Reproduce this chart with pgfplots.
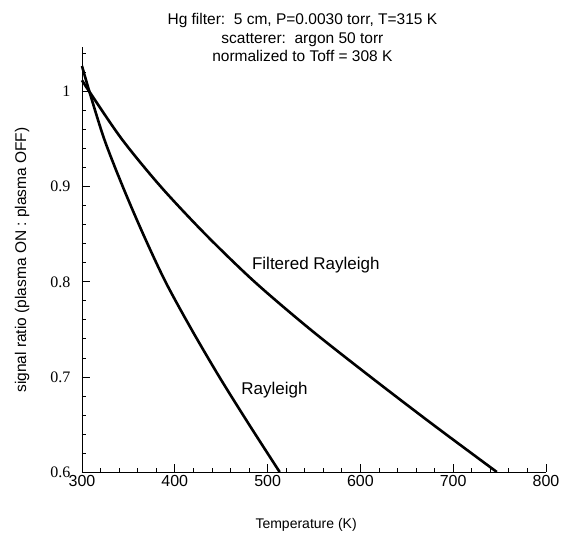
\documentclass[border=0pt]{standalone}
\usepackage{fontspec}
\setmainfont{Liberation Serif}
\setsansfont{Liberation Sans}
\usepackage{pgfplots}
\pgfplotsset{compat=1.18}
\begin{document}
\begin{tikzpicture}
\begin{axis}[
  scale only axis, width=464pt, height=425pt,
  xmin=300, xmax=800, ymin=0.6, ymax=1.047,
  axis lines*=left, clip=false,
  axis line style={line width=0.9pt},
  tick align=inside,
  major tick length=8pt, minor tick length=4pt,
  every tick/.style={black, line width=0.8pt},
  xtick={300,400,500,600,700,800},
  minor xtick={320,340,360,380,420,440,460,480,520,540,560,580,620,640,660,680,720,740,760,780},
  ytick={0.6,0.7,0.8,0.9,1},
  yticklabels={0.6,0.7,0.8,0.9,1},
  minor ytick={0.62,0.64,0.66,0.68,0.72,0.74,0.76,0.78,0.82,0.84,0.86,0.88,0.92,0.94,0.96,0.98,1.02,1.04},
  /pgf/number format/assume math mode=true,
  xticklabel style={font=\fontsize{16}{16}\selectfont\sffamily, yshift=0pt},
  yticklabel style={font=\fontsize{16}{16}\selectfont\rmfamily, xshift=-8pt},
]
\addplot[black, line width=2.6pt, smooth, tension=0.5] coordinates {
 (300,1.027) (308,1.0) (324,0.95) (344,0.9) (366,0.85) (390,0.8) (418,0.75) (448,0.7) (480,0.65) (513,0.6)};
\addplot[black, line width=2.6pt, smooth, tension=0.5] coordinates {
 (300,1.012) (308,1.0) (343,0.95) (385,0.9) (433,0.85) (486,0.8) (546,0.75) (611,0.7) (678,0.65) (747,0.6)};
\node[font=\fontsize{17}{17}\selectfont\sffamily, anchor=base] at (axis cs:552,0.8126) {Filtered Rayleigh};
\node[font=\fontsize{17}{17}\selectfont\sffamily, anchor=base] at (axis cs:507.4,0.682) {Rayleigh};
\node[font=\fontsize{15.5}{15.5}\selectfont\sffamily, anchor=base] at (rel axis cs:0.475,1.0518) {Hg filter:\ \ 5 cm, P=0.0030 torr, T=315 K};
\node[font=\fontsize{15.5}{15.5}\selectfont\sffamily, anchor=base] at (rel axis cs:0.475,1.0082) {scatterer:\ \ argon 50 torr};
\node[font=\fontsize{15.5}{15.5}\selectfont\sffamily, anchor=base] at (rel axis cs:0.475,0.9647) {normalized to Toff = 308 K};
\node[font=\fontsize{14}{14}\selectfont\sffamily, anchor=base] at (rel axis cs:0.483,-0.1318) {Temperature (K)};
\node[font=\fontsize{15.5}{15.5}\selectfont\sffamily, rotate=90, anchor=center] at (rel axis cs:-0.1293,0.4988) {signal ratio (plasma ON : plasma OFF)};
\coordinate (O) at (rel axis cs:0,0);
\end{axis}
\pgfresetboundingbox
\path (O) ++(-82pt,-61pt) rectangle ++(582pt,533pt);
\end{tikzpicture}
\end{document}
